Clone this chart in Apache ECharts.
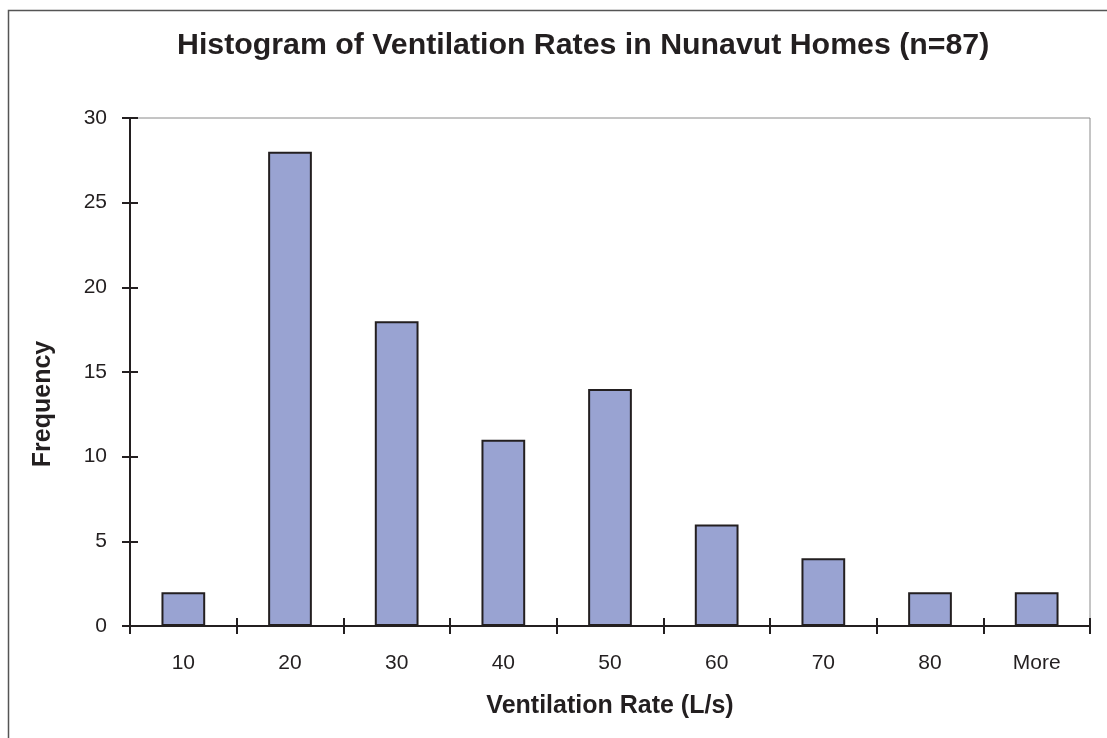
<!DOCTYPE html>
<html><head><meta charset="utf-8">
<script src="https://cdn.jsdelivr.net/npm/echarts@6/dist/echarts.min.js"></script>
<style>html,body{margin:0;padding:0;background:#fff}#c{width:1107px;height:738px}</style>
</head><body><div id="c"></div>
<script>
const categories = ['10','20','30','40','50','60','70','80','More'];
const frequency = [2, 28, 18, 11, 14, 6, 4, 2, 2];
const yTicks = [0, 5, 10, 15, 20, 25, 30];

const chart = echarts.init(document.getElementById('c'), null, {renderer:'canvas'});
const FONT = '"Liberation Sans", Arial, sans-serif';
const TXT = '#231f20';
const gridPos = {left:130, right:17, top:118, bottom:112};
const baseX = {
  type:'category', data:categories, boundaryGap:true, position:'bottom',
  axisLine:{show:true, lineStyle:{color:'#231f20', width:2}},
  axisTick:{show:true, alignWithLabel:false, length:8, lineStyle:{color:'#231f20', width:2}},
  splitLine:{show:false}
};
const baseY = {
  type:'value', min:0, max:30, interval:5, position:'left',
  axisLine:{show:true, lineStyle:{color:'#231f20', width:2}},
  axisTick:{show:true, length:8, lineStyle:{color:'#231f20', width:2}},
  splitLine:{show:false}
};
chart.setOption({
  animation:false,
  title:{text:'Histogram of Ventilation Rates in Nunavut Homes (n=87)', left:172, top:26,
    textStyle:{fontFamily:FONT, fontWeight:'bold', fontSize:30.3, color:TXT}},
  grid:Object.assign({show:true, borderColor:'#8a8a8a', borderWidth:1, backgroundColor:'transparent'}, gridPos),
  xAxis:[
    Object.assign({}, baseX, {
      name:'Ventilation Rate (L/s)', nameLocation:'middle', nameGap:68,
      nameTextStyle:{fontFamily:FONT, fontWeight:'bold', fontSize:25, color:TXT},
      axisTick:Object.assign({}, baseX.axisTick, {inside:false}),
      axisLabel:{fontFamily:FONT, fontSize:21, color:TXT, margin:27}
    }),
    Object.assign({}, baseX, {
      axisTick:Object.assign({}, baseX.axisTick, {inside:true}),
      axisLabel:{show:false}
    })
  ],
  yAxis:[
    Object.assign({}, baseY, {
      axisTick:Object.assign({}, baseY.axisTick, {inside:false}),
      axisLabel:{fontFamily:FONT, fontSize:21, color:TXT, margin:23,
        formatter:v => yTicks.includes(v) ? String(v) : ''}
    }),
    Object.assign({}, baseY, {
      axisTick:Object.assign({}, baseY.axisTick, {inside:true}),
      axisLabel:{show:false}
    })
  ],
  graphic:[
    {type:'rect', silent:true, z:-10, shape:{x:8.5, y:10.5, width:1200, height:800},
      style:{fill:'none', stroke:'#555', lineWidth:1.5}},
    {type:'text', x:43, y:404, rotation:Math.PI/2, silent:true,
      style:{text:'Frequency', fontFamily:FONT, fontWeight:'bold', fontSize:25, fill:TXT,
        align:'center', verticalAlign:'middle'}}
  ],
  series:[{
    type:'bar', data:frequency, xAxisIndex:0, yAxisIndex:0, barWidth:'41%',
    itemStyle:{color:'#99a3d2', borderColor:'#231f20', borderWidth:2}
  }]
});
</script></body></html>
